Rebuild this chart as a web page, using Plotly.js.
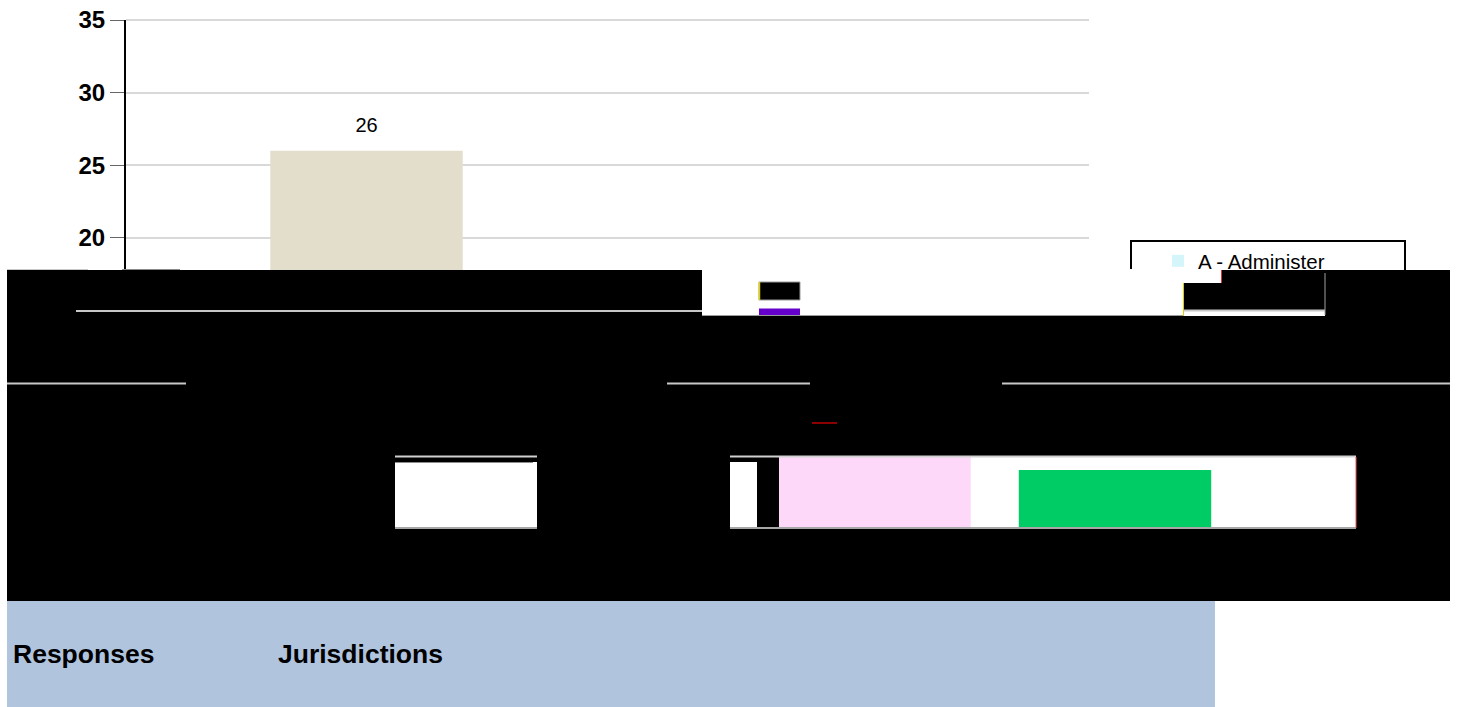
<!DOCTYPE html>
<html>
<head>
<meta charset="utf-8">
<script src="https://cdn.plot.ly/plotly-3.0.1.min.js"></script>
<style>
html, body { margin: 0; padding: 0; background: #ffffff; }
#chart { width: 1457px; height: 707px; }
</style>
</head>
<body>
<div id="chart"></div>
<script>
// ---------------- data ----------------
const categories = ["C1", "C2", "C3", "C4", "C5"];
const tickLabels = ["", "Jurisdictions", "", "", ""];
const rowHeader = "Responses";
const seriesNames = ["A - Administer", "B", "C", "D"];
const seriesCategories = ["C1", "C2", "C4", "C5"];
const seriesValues = [12, 26, 5, 4];
const yTickValues = [0, 5, 10, 15, 20, 25, 30, 35];

// ---------------- styles / geometry ----------------
const seriesColors = ["#D4F6FA", "#E3DDCB", "#FED8F8", "#00CC66"];
const seriesAxis = ["x", "x", "x2", "x2"];
const FONT = "Liberation Sans, Arial, Helvetica, sans-serif";
const PL = 126, PR = 1356, PT = 20, PB = 528;          // plot area in px
const px = x => (x - PL) / (PR - PL);
const py = y => (PB - y) / (PB - PT);
const pitch = 240.5;                                    // px per category

const traces = [];
seriesNames.forEach((name, i) => {
  const onX2 = seriesAxis[i] === "x2";
  traces.push({
    type: "bar",
    name: name,
    x: [seriesCategories[i]],
    y: [seriesValues[i]],
    xaxis: onX2 ? "x2" : "x",
    yaxis: onX2 ? "y2" : "y",
    marker: { color: seriesColors[i] },
    showlegend: i === 0,
    hoverinfo: "skip"
  });
  traces.push({
    type: "scatter",
    mode: "markers+text",
    x: [seriesCategories[i]],
    y: [seriesValues[i]],
    text: [String(seriesValues[i])],
    textposition: "top center",
    textfont: { family: FONT, size: 20, color: "#000000" },
    marker: { size: 21, color: "rgba(0,0,0,0)" },
    xaxis: onX2 ? "x2" : "x",
    yaxis: onX2 ? "y2" : "y",
    showlegend: false,
    hoverinfo: "skip"
  });
});

// ---------------- shapes ----------------
const shapes = [];
function rect(x0, y0, x1, y1, fill, lineColor, lineWidth, layer) {
  shapes.push({
    type: "rect", xref: "paper", yref: "paper", layer: layer || "above",
    x0: px(x0), x1: px(x1), y0: py(y1), y1: py(y0),
    fillcolor: fill,
    line: { width: lineWidth || 0, color: lineColor || fill }
  });
}
function line(x0, y0, x1, y1, color, width, layer) {
  shapes.push({
    type: "line", xref: "paper", yref: "paper", layer: layer || "above",
    x0: px(x0), x1: px(x1), y0: py(y0), y1: py(y1),
    line: { color: color, width: width }
  });
}
// table background (below the labels)
rect(7, 601, 1215, 707, "#B0C4DE", null, 0, "below");
// top gridline (value 35) at the plot edge
line(126, 20, 1089, 20, "#D9D9D9", 2, "below");
// legend frame
rect(1131, 241, 1405, 300, "rgba(255,255,255,0)", "#000000", 2);
// black band (overlapping pieces, no seams)
rect(7, 270, 1450, 456, "#000000");
rect(7, 455, 730, 529, "#000000");
rect(1356, 455, 1450, 529, "#000000");
rect(7, 528, 1450, 601, "#000000");
rect(757, 455, 779, 529, "#000000");
rect(729, 455, 757, 462, "#000000");
// white fragments
rect(395, 457, 537, 528, "#FFFFFF");
rect(395, 457, 537, 462, "#000000");
rect(702, 269, 1183, 315.5, "#FFFFFF");
rect(1183, 269, 1222, 283, "#FFFFFF");
rect(1183, 311, 1325, 316, "#FFFFFF");
// legend swatch fragments
rect(759, 282, 800, 300, "#000000", "#9A9A9A", 1);
rect(759, 308.5, 800, 316, "#6600CC");
// gridline fragments
line(76, 311, 702, 311, "#C8C8C8", 2);
line(7, 383.5, 186, 383.5, "#C8C8C8", 2);
line(667, 383.5, 810, 383.5, "#C8C8C8", 2);
line(1002, 383.5, 1450, 383.5, "#C8C8C8", 2);
line(395, 456.5, 537, 456.5, "#D0D0D0", 2);
line(730, 456.5, 1356, 456.5, "#D0D0D0", 2);
line(395, 462.5, 533, 462.5, "#8C8C8C", 1);
line(395, 528, 537, 528, "#A6A6A6", 2);
line(730, 528, 1356, 528, "#A6A6A6", 2);
line(1183, 310.5, 1325, 310.5, "#C8C8C8", 2);
line(1325, 273, 1325, 315, "#A0A0A0", 1);
line(702, 315.5, 1183, 315.5, "#9A9A9A", 1);
line(7, 269.5, 88, 269.5, "#C8C8C8", 1);
line(122, 269.5, 180, 269.5, "#8A8A8A", 1);
line(812, 423, 837, 423, "#8B0000", 2);
line(1356, 457, 1356, 528, "#FF4D4D", 1);
line(1221.5, 270, 1221.5, 283, "#E03030", 1);
line(759.5, 282, 759.5, 300, "#E0D000", 1.5);
line(1183.5, 283, 1183.5, 316, "#E0D000", 1);

// ---------------- table row: header + category labels ----------------
const labelFont = { family: FONT, size: 26.5, color: "#000000", weight: "bold" };
const annotations = [{
  xref: "paper", yref: "paper", x: px(11), y: py(654),
  xanchor: "left", yanchor: "middle",
  text: rowHeader, showarrow: false, font: labelFont
}];
tickLabels.forEach((t, i) => {
  if (!t) return;
  annotations.push({
    xref: "x", yref: "paper", x: i, y: py(654),
    xanchor: "center", yanchor: "middle", xshift: -6,
    text: t, showarrow: false, font: labelFont
  });
});

const layout = {
  width: 1457, height: 707,
  margin: { l: PL, r: 1457 - PR, t: PT, b: 707 - PB, pad: 0 },
  paper_bgcolor: "#FFFFFF",
  plot_bgcolor: "rgba(0,0,0,0)",
  barmode: "overlay",
  bargap: 0.2,
  showlegend: true,
  legend: {
    x: px(1158), xanchor: "left", y: py(241), yanchor: "top",
    bgcolor: "rgba(0,0,0,0)", borderwidth: 0,
    font: { family: FONT, size: 20.5, color: "#000000" }
  },
  xaxis: {
    type: "category", categoryorder: "array", categoryarray: categories,
    domain: [0, px(1089)], range: [0, (1089 - PL) / pitch],
    showticklabels: false, showgrid: false, zeroline: false, showline: false, ticks: "",
    anchor: "y", automargin: false, fixedrange: true
  },
  yaxis: {
    range: [0, 35], domain: [0, 1], tickvals: yTickValues,
    showgrid: true, gridcolor: "#D9D9D9", gridwidth: 2,
    showline: true, linecolor: "#000000", linewidth: 2,
    ticks: "outside", ticklen: 14, tickcolor: "#666666", tickwidth: 1,
    tickfont: { family: FONT, size: 24, color: "#000000", weight: "bold" },
    zeroline: false, anchor: "x", automargin: false, fixedrange: true
  },
  xaxis2: {
    type: "category", categoryorder: "array", categoryarray: categories,
    domain: [px(153), 1], range: [0, (PR - 153) / pitch],
    visible: false, anchor: "y2", fixedrange: true
  },
  yaxis2: {
    range: [0, 35], domain: [0, 1], visible: false, anchor: "x2", fixedrange: true
  },
  shapes: shapes,
  annotations: annotations
};

Plotly.newPlot("chart", traces, layout, { staticPlot: true, displayModeBar: false });
</script>
</body>
</html>
